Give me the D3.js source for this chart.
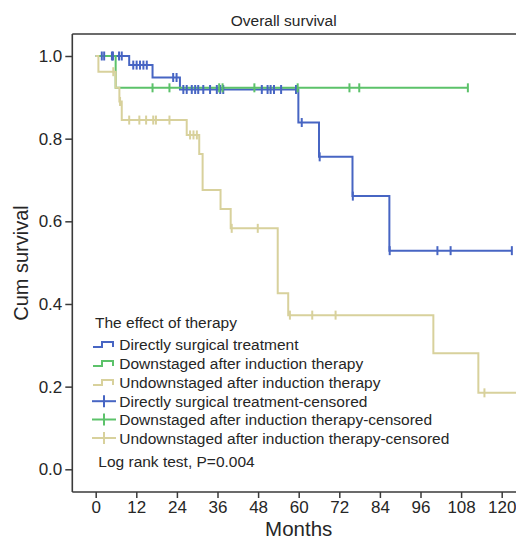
<!DOCTYPE html>
<html>
<head>
<meta charset="utf-8">
<script src="https://cdn.jsdelivr.net/npm/d3@7"></script>
<style>
  html, body { margin: 0; padding: 0; background: #fff; }
  svg { display: block; font-family: "Liberation Sans", Arial, Helvetica, sans-serif; }
</style>
</head>
<body>
<svg id="chart" width="516" height="540"></svg>
<script>
// Kaplan–Meier curves: overall survival by effect of therapy

const groupNames = [
  "Directly surgical treatment",
  "Downstaged after induction therapy",
  "Undownstaged after induction therapy"
];
const groupColors = ["#4765c3", "#5cc26a", "#d8d19c"];

// event steps: [month, survival after the event]
const directSteps = [[9.9, 0.978], [16.8, 0.948], [24.9, 0.919], [59.9, 0.839], [66.0, 0.756], [75.9, 0.661], [86.8, 0.529]];
const downSteps = [[5.9, 0.923]];
const undownSteps = [[0.8, 0.962], [5.9, 0.923], [7.0, 0.890], [7.7, 0.845], [26.9, 0.809], [30.6, 0.763], [31.6, 0.676], [36.9, 0.630], [39.9, 0.583], [53.8, 0.426], [56.9, 0.373], [99.8, 0.281], [113.1, 0.185]];

// censored observations (months)
const directCensored = [1.8, 2.5, 4.8, 5.1, 6.9, 7.7, 11.1, 12.1, 13.1, 14.1, 15.1, 22.9, 23.9, 25.9, 26.9, 28.4, 29.4, 30.3, 31.8, 33.8, 35.8, 36.8, 37.7, 49.1, 50.8, 51.7, 52.7, 54.8, 59.2, 60.9, 66.2, 76.0, 86.9, 101.0, 104.9, 123.0];
const downCensored = [16.8, 21.8, 36.5, 37.5, 46.9, 59.7, 75.0, 77.9, 110.0];
const undownCensored = [5.2, 7.2, 9.9, 12.9, 14.9, 17.0, 17.8, 21.8, 27.9, 28.9, 29.9, 40.2, 47.9, 57.4, 64.0, 70.9, 114.9];

// last follow-up of each group (months)
const followUpEnd = [123.0, 110.0, 127.0];

const xTicks = [0, 12, 24, 36, 48, 60, 72, 84, 96, 108, 120];
const yTicks = [0.0, 0.2, 0.4, 0.6, 0.8, 1.0];

const groups = [
  { steps: directSteps, censored: directCensored },
  { steps: downSteps, censored: downCensored },
  { steps: undownSteps, censored: undownCensored }
];

const svg = d3.select("#chart");
const frame = { left: 72.3, top: 34, right: 540, bottom: 492 };

const x = d3.scaleLinear().domain([0, 120]).range([95.7, 501.7]);
const y = d3.scaleLinear().domain([0, 1]).range([469.3, 56]);

const axisColor = "#3a3a3a";
const textColor = "#262626";

// survival level at time t (censor at the same time as an event sits on the new level)
function levelAt(steps, t) {
  let s = 1;
  for (const [tt, v] of steps) { if (tt <= t + 1e-9) s = v; }
  return s;
}

function stepPath(steps, end) {
  const p = d3.path();
  p.moveTo(x(0), y(1));
  for (const [t, s] of steps) {
    p.lineTo(x(t), y(levelAt(steps, t - 1e-6)));
    p.lineTo(x(t), y(s));
  }
  p.lineTo(x(end), y(steps.length ? steps[steps.length - 1][1] : 1));
  return p.toString();
}

// frame: top border, left and bottom axes
svg.append("line").attr("x1", frame.left).attr("x2", frame.right).attr("y1", frame.top).attr("y2", frame.top)
  .attr("stroke", axisColor).attr("stroke-width", 1.5);

const yAxis = d3.axisLeft(y).tickValues(yTicks).tickFormat(d3.format(".1f")).tickSize(7).tickPadding(3);
const yg = svg.append("g").attr("transform", `translate(${frame.left},0)`).call(yAxis);
yg.select(".domain").remove();
yg.append("line").attr("x1", 0).attr("x2", 0).attr("y1", frame.top).attr("y2", frame.bottom)
  .attr("stroke", axisColor).attr("stroke-width", 1.6);

const xAxis = d3.axisBottom(x).tickValues(xTicks).tickFormat(d3.format("d")).tickSize(6).tickPadding(3);
const xg = svg.append("g").attr("transform", `translate(0,${frame.bottom})`).call(xAxis);
xg.select(".domain").remove();
xg.append("line").attr("x1", frame.left).attr("x2", frame.right).attr("y1", 0).attr("y2", 0)
  .attr("stroke", axisColor).attr("stroke-width", 1.6);

[yg, xg].forEach(g => {
  g.selectAll(".tick line").attr("stroke", axisColor).attr("stroke-width", 1.5);
  g.selectAll(".tick text").attr("fill", textColor).style("font-size", "17px")
    .style("font-family", "'Liberation Sans', Arial, sans-serif");
});

// titles
svg.append("text").attr("x", 283.7).attr("y", 26).attr("text-anchor", "middle")
  .attr("fill", textColor).style("font-size", "15.5px").text("Overall survival");
svg.append("text").attr("x", 298.7).attr("y", 536).attr("text-anchor", "middle")
  .attr("fill", textColor).style("font-size", "20.5px").text("Months");
svg.append("text").attr("transform", "translate(28,263) rotate(-90)").attr("text-anchor", "middle")
  .attr("fill", textColor).style("font-size", "20px").text("Cum survival");

// survival curves
const curves = svg.append("g");
groups.forEach((g, i) => {
  curves.append("path").attr("d", stepPath(g.steps, followUpEnd[i]))
    .attr("fill", "none").attr("stroke", groupColors[i]).attr("stroke-width", 2);
});

// censor ticks
groups.forEach((g, i) => {
  curves.append("g").selectAll("line").data(g.censored).join("line")
    .attr("x1", d => x(d)).attr("x2", d => x(d))
    .attr("y1", d => y(levelAt(g.steps, d)) - 4.5)
    .attr("y2", d => y(levelAt(g.steps, d)) + 4.5)
    .attr("stroke", groupColors[i]).attr("stroke-width", 2);
});

// legend
const legend = svg.append("g").style("font-size", "15.5px").attr("fill", textColor);
legend.append("text").attr("x", 95).attr("y", 328).text("The effect of therapy");

const rowBase = [350, 369, 388, 406.7, 425, 443.5];
const legendItems = [
  ...groupNames.map((n, i) => ({ label: n, color: groupColors[i], kind: "line" })),
  ...groupNames.map((n, i) => ({ label: n + "-censored", color: groupColors[i], kind: "censor" }))
];
legendItems.forEach((item, k) => {
  const b = rowBase[k];
  const cy = b - 5.5;
  if (item.kind === "line") {
    legend.append("path")
      .attr("d", `M93,${cy + 2.5}H102V${cy - 2.5}H113V${cy + 2.5}`)
      .attr("fill", "none").attr("stroke", item.color).attr("stroke-width", 2);
  } else {
    legend.append("line").attr("x1", 92).attr("x2", 116).attr("y1", cy).attr("y2", cy)
      .attr("stroke", item.color).attr("stroke-width", 2);
    legend.append("line").attr("x1", 104).attr("x2", 104).attr("y1", cy - 6).attr("y2", cy + 6)
      .attr("stroke", item.color).attr("stroke-width", 2);
  }
  legend.append("text").attr("x", 119.3).attr("y", b).text(item.label);
});

legend.append("text").attr("x", 98.3).attr("y", 466.7).text("Log rank test, P=0.004");
</script>
</body>
</html>
